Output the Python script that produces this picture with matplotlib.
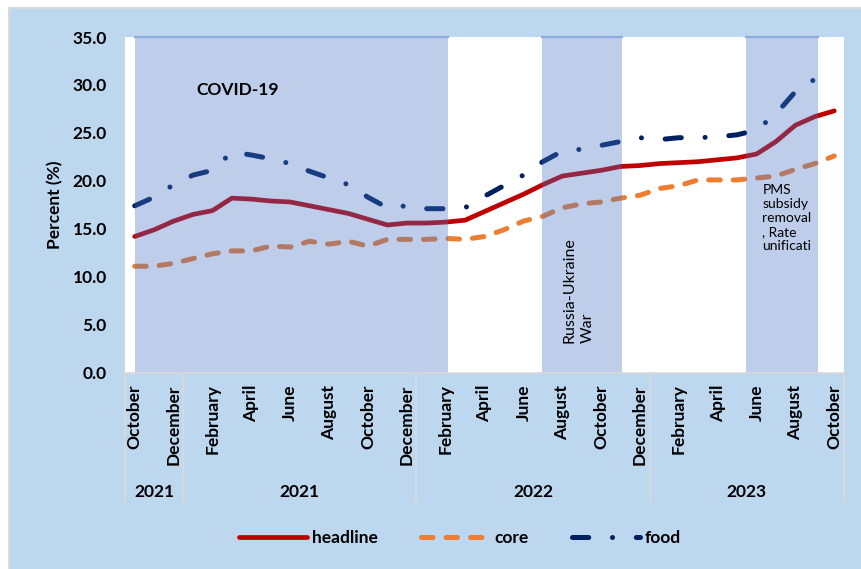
import numpy as np
import matplotlib
matplotlib.use('Agg')
import matplotlib.pyplot as plt
import matplotlib.transforms as mtransforms
from matplotlib.patches import Rectangle
from matplotlib.lines import Line2D

# ---------------- data ----------------
# monthly, October 2020 .. October 2023 (37 points)
tick_labels = ['October', 'December', 'February', 'April', 'June', 'August',
               'October', 'December', 'February', 'April', 'June', 'August',
               'October', 'December', 'February', 'April', 'June', 'August',
               'October']
year_labels = ['2021', '2021', '2022', '2023']
year_bounds = [-0.5, 2.5, 14.5, 26.5, 36.5]

headline = [14.2, 14.9, 15.8, 16.5, 16.9, 18.2, 18.1, 17.9, 17.8, 17.4,
            17.0, 16.6, 16.0, 15.4, 15.6, 15.6, 15.7, 15.9, 16.8, 17.7,
            18.6, 19.6, 20.5, 20.8, 21.1, 21.5, 21.6, 21.8, 21.9, 22.0,
            22.2, 22.4, 22.8, 24.1, 25.8, 26.7, 27.3]
core = [11.1, 11.1, 11.4, 11.9, 12.4, 12.7, 12.7, 13.2, 13.1, 13.7,
        13.4, 13.7, 13.2, 13.9, 13.9, 13.9, 14.0, 13.9, 14.2, 14.9,
        15.8, 16.3, 17.2, 17.6, 17.8, 18.2, 18.5, 19.2, 19.5, 20.1,
        20.1, 20.1, 20.3, 20.5, 21.2, 21.8, 22.6]
food = [17.4, 18.3, 19.6, 20.6, 21.1, 23.0, 22.7, 22.3, 21.8, 21.0,
        20.3, 19.6, 18.3, 17.2, 17.4, 17.1, 17.1, 17.2, 18.4, 19.5,
        20.6, 22.0, 23.1, 23.3, 23.7, 24.1, 24.5, 24.3, 24.5, 24.5,
        24.6, 24.8, 25.3, 27.0, 29.3, 30.6, float('nan')]

event_labels = ['COVID-19', 'Russia-Ukraine\nWar', 'PMS\nsubsidy\nremoval\n, Rate\nunificati']
event_start = [0.0, 20.95, 31.45]
event_end = [16.1, 25.1, 35.15]

# ---------------- style ----------------
FONT = ['Lato', 'DejaVu Sans']
plt.rcParams['font.family'] = FONT
FS = 12.5

fig = plt.figure(figsize=(8.61, 5.69), dpi=100)
fig.patch.set_facecolor('white')
fig.patches.append(Rectangle((9 / 861, -0.01), 1.0, (569 - 8) / 569 + 0.01,
                             transform=fig.transFigure, facecolor='#BDD7EE',
                             edgecolor='#D9D9D9', lw=1.5, zorder=-10))

ax = fig.add_axes([125 / 861, 196.3 / 569, 719 / 861, 335.7 / 569])
ax.set_facecolor('white')

x = np.arange(len(headline))

ax.plot(x, headline, color='#C00000', lw=3.4, solid_capstyle='round',
        solid_joinstyle='round', zorder=2, label='headline')
ax.plot(x, core, color='#ED7D31', lw=3.6, linestyle=(0, (2.3, 2.6)),
        dash_capstyle='round', dash_joinstyle='round', zorder=2, label='core')
ax.plot(x, food, color='#002060', lw=3.6, linestyle=(0, (3.25, 4.75, 0.01, 4.75)),
        dash_capstyle='round', dash_joinstyle='round', zorder=2, label='food')

for s, e in zip(event_start, event_end):
    ax.axvspan(s, e, color='#4472C4', alpha=0.35, lw=0, zorder=3)
    ax.plot([s, e], [35, 35], color='#8FAADC', lw=1.6, zorder=4, clip_on=False)

ax.set_xlim(-0.5, 36.5)
ax.set_ylim(0, 35)

for sp in ['top', 'right', 'left']:
    ax.spines[sp].set_visible(False)
ax.spines['bottom'].set_color('#D9D9D9')
ax.spines['bottom'].set_linewidth(1.2)
ax.spines['bottom'].set_zorder(5)

ax.set_yticks(np.arange(0, 36, 5))
ax.set_yticklabels([f'{v:.1f}' for v in np.arange(0, 36, 5)],
                   fontsize=FS, fontweight='bold')
ax.set_xticks(np.arange(0, 37, 2))
ax.set_xticklabels(tick_labels, rotation=90, fontsize=FS, fontweight='bold',
                   va='top', ha='center')
ax.tick_params(axis='both', length=0)
ax.tick_params(axis='y', pad=13)
ax.tick_params(axis='x', pad=8.5)

trans = mtransforms.blended_transform_factory(ax.transData, ax.transAxes)
for b in year_bounds:
    ax.plot([b, b], [0, -0.384], transform=trans, color='#D9D9D9', lw=1.2,
            clip_on=False)
for lab, a, b in zip(year_labels, year_bounds[:-1], year_bounds[1:]):
    ax.text((a + b) / 2, -0.3545, lab, transform=trans, ha='center',
            va='center', fontsize=FS, fontweight='bold')

fig.text(55 / 861, (569 - 205) / 569, 'Percent (%)', rotation=90, ha='center',
         va='center', fontsize=FS, fontweight='bold')

# event annotations
ax.text(3.15, 29.5, event_labels[0], ha='left', va='center', fontsize=FS,
        fontweight='bold', zorder=6)
ax.text(22.85, 3.1, event_labels[1], rotation=90, ha='center', va='bottom',
        multialignment='left', fontsize=11.5, linespacing=1.4, zorder=6)
ax.text(32.3, 19.7, event_labels[2], ha='left', va='top', fontsize=10,
        linespacing=1.2, zorder=6)

handles = [Line2D([], [], color='#C00000', lw=3.4, solid_capstyle='round'),
           Line2D([], [], color='#ED7D31', lw=3.6, linestyle=(0, (2.3, 2.6)),
                  dash_capstyle='round'),
           Line2D([], [], color='#002060', lw=3.6,
                  linestyle=(0, (3.25, 4.75, 0.01, 4.75)), dash_capstyle='round')]
leg = fig.legend(handles, ['headline', 'core', 'food'], loc='center',
                 bbox_to_anchor=(460 / 861, (569 - 538) / 569), ncol=3,
                 frameon=False, handlelength=3.9, handletextpad=0.3,
                 columnspacing=2.5, prop={'size': FS, 'weight': 'bold'})

fig.savefig('out.png', dpi=100)
